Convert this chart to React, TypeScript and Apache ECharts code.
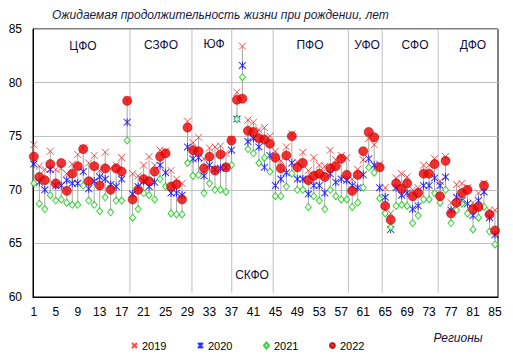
import React, { useEffect, useRef } from 'react';
import * as echarts from 'echarts';

// Region numbers shown on the x axis
const regionTicks = [1, 5, 9, 13, 17, 21, 25, 29, 33, 37, 41, 45, 49, 53, 57, 61, 65, 69, 73, 77, 81, 85];

// Life expectancy at birth by region (1..85)
const y2019 = [
  74.2, 72.2, 71.9, 73.6, 71.9, 72.0, 71.5, 72.4, 73.3, 73.9,
  72.5, 73.2, 71.8, 73.5, 72.0, 72.3, 73.0, 78.4, 71.5, 71.3,
  72.3, 73.1, 72.3, 73.7, 73.6, 71.8, 71.0, 70.6, 76.4, 74.4,
  74.9, 72.9, 73.9, 74.0, 74.1, 73.4, 74.7, 79.1, 83.4, 76.5,
  76.3, 75.6, 75.8, 75.0, 73.6, 72.7, 74.0, 75.2, 72.6, 73.5,
  71.8, 73.0, 72.3, 72.2, 73.7, 72.8, 73.2, 73.0, 71.0, 71.9,
  72.8, 74.8, 74.2, 72.4, 70.2, 67.8, 71.1, 71.5, 71.2, 70.0,
  70.2, 72.3, 72.3, 72.9, 70.8, 73.1, 68.8, 70.5, 70.6, 70.2,
  68.8, 69.7, 70.6, 68.1, 68.1,
];
const y2020 = [
  72.4, 70.7, 70.0, 71.9, 70.4, 70.4, 70.9, 70.6, 70.6, 71.7,
  70.1, 70.8, 71.2, 71.0, 70.5, 70.3, 71.0, 76.3, 69.6, 70.3,
  70.8, 70.3, 70.7, 72.3, 71.6, 69.7, 69.7, 69.5, 74.0, 72.9,
  73.0, 71.3, 72.3, 71.9, 72.0, 72.1, 73.7, 76.6, 81.6, 74.5,
  74.8, 74.0, 72.1, 73.2, 70.4, 71.0, 71.6, 72.5, 71.0, 71.0,
  69.6, 70.4, 70.4, 69.7, 71.5, 70.7, 71.0, 70.9, 70.4, 70.2,
  71.4, 72.9, 72.3, 70.2, 69.3, 66.3, 70.2, 69.5, 69.7, 68.2,
  68.5, 70.4, 70.4, 71.1, 70.4, 71.2, 68.1, 69.3, 69.0, 68.7,
  67.6, 69.0, 69.8, 67.4, 65.8,
];
const y2021 = [
  70.6, 68.7, 68.2, 69.5, 69.0, 69.1, 68.8, 68.6, 68.6, 70.4,
  69.0, 68.6, 68.0, 69.3, 67.9, 69.0, 69.0, 74.6, 67.4, 68.2,
  69.7, 69.5, 69.1, 71.0, 70.3, 67.8, 67.7, 67.7, 72.5, 71.3,
  71.4, 69.7, 70.6, 70.0, 70.0, 69.8, 72.3, 76.6, 80.5, 73.8,
  73.4, 72.5, 73.0, 71.7, 69.4, 69.4, 70.3, 71.5, 70.0, 70.0,
  68.4, 69.4, 69.0, 68.2, 70.0, 69.4, 69.1, 69.1, 68.4, 68.8,
  70.2, 72.1, 71.6, 69.2, 67.8, 66.5, 68.5, 68.6, 68.5, 66.9,
  67.6, 69.1, 69.1, 69.7, 68.8, 70.0, 66.9, 68.1, 68.7, 67.8,
  66.3, 67.4, 68.4, 66.1, 64.9,
];
const y2022 = [
  73.1, 71.2, 70.9, 72.4, 70.6, 72.5, 69.9, 71.5, 72.2, 73.8,
  70.8, 72.2, 70.4, 72.0, 70.0, 72.0, 71.7, 78.3, 69.1, 70.0,
  71.0, 70.8, 71.7, 73.1, 73.4, 70.3, 70.5, 69.1, 75.8, 73.7,
  73.6, 72.0, 73.1, 71.8, 73.3, 72.1, 74.6, 78.4, 78.5, 75.5,
  75.4, 74.8, 74.7, 74.3, 73.0, 72.0, 73.2, 75.0, 72.1, 72.5,
  70.9, 71.3, 71.5, 71.2, 72.0, 72.2, 72.9, 71.4, 69.9, 71.4,
  73.6, 75.4, 74.9, 72.1, 68.5, 67.2, 70.6, 70.1, 70.6, 69.4,
  69.7, 71.5, 71.5, 72.4, 69.4, 72.7, 67.8, 68.8, 69.7, 70.0,
  68.2, 68.4, 70.4, 67.7, 66.2,
];

// Federal district boundaries (in region-number units) and names
const districtBounds = [18.5, 29.8, 37.05, 44.6, 58.3, 64.45, 74.65];
const districtNames = ['ЦФО', 'СЗФО', 'ЮФ', 'СКФО', 'ПФО', 'УФО', 'СФО', 'ДФО'];
const seriesNames = ['2019', '2020', '2021', '2022'];

const titleText = 'Ожидаемая продолжительность жизни при рождении, лет';
const xAxisTitle = 'Регионы';

const FONT = '"Liberation Sans", Arial, sans-serif';
const X_MARK = 'path://M0,0L10,10M10,0L0,10';
const AST_MARK = 'path://M0,1L10,11M10,1L0,11M5,0L5,12';

export default function App() {
  const ref = useRef<HTMLDivElement>(null);

  useEffect(() => {
    if (!ref.current) return;
    const chart = echarts.init(ref.current, null, { renderer: 'svg' });

    const all = [y2019, y2020, y2021, y2022];
    const hilo = y2019.map((_, i) => {
      const vals = all.map((a) => a[i]);
      return [i + 1, Math.min(...vals), Math.max(...vals)];
    });
    const sepData = districtBounds.map((b) => [b, 60.4, 85]);
    const pts = (arr: number[]) => arr.map((v, i) => [i + 1, v]);

    const vline = (color: string) => (params: any, api: any) => {
      const x = api.value(0);
      const p1 = api.coord([x, api.value(1)]);
      const p2 = api.coord([x, api.value(2)]);
      return {
        type: 'line',
        shape: { x1: p1[0], y1: p1[1], x2: p2[0], y2: p2[1] },
        style: { stroke: color, lineWidth: 1 },
      };
    };

    // label positions (pixels)
    const labelPos: [number, number][] = [
      [83, 46], [161, 45], [214, 44], [252, 275], [310, 45], [367, 45], [415, 45], [473, 45],
    ];

    chart.setOption({
      animation: false,
      textStyle: { fontFamily: FONT },
      grid: {
        left: 33, right: 15, top: 29, bottom: 66,
        show: true, borderColor: '#000', borderWidth: 1, backgroundColor: 'transparent',
      },
      xAxis: {
        type: 'value', min: 0.85, max: 85.55,
        axisLine: { show: true, lineStyle: { color: '#000', width: 1 } },
        axisTick: { show: false },
        splitLine: { show: false },
        axisLabel: { customValues: regionTicks, color: '#000', fontSize: 12, margin: 9, fontFamily: FONT },
      },
      yAxis: {
        type: 'value', min: 60, max: 85, interval: 5,
        axisLine: { show: true, lineStyle: { color: '#000', width: 1 } },
        axisTick: { show: false },
        splitLine: { show: true, lineStyle: { color: '#c0c0c0', width: 1 } },
        axisLabel: { color: '#000', fontSize: 12, margin: 11, fontFamily: FONT },
      },
      legend: {
        data: seriesNames,
        left: 131, top: 340,
        itemWidth: 5, itemHeight: 6, itemGap: 30.5,
        textStyle: { fontSize: 11, color: '#000', fontFamily: FONT },
        padding: 0,
      },
      graphic: [
        {
          type: 'text', left: 52, top: 9, silent: true,
          style: { text: titleText, font: `italic 12px ${FONT}`, fill: '#1a1a40' },
        },
        ...districtNames.map((name, i) => ({
          type: 'text', x: labelPos[i][0], y: labelPos[i][1], silent: true,
          style: {
            text: name, font: `12px ${FONT}`, fill: '#10103a',
            textAlign: 'center', textVerticalAlign: 'middle',
          },
        })),
        {
          type: 'text', x: 458, y: 338, silent: true,
          style: {
            text: xAxisTitle, font: `italic 12px ${FONT}`, fill: '#10103a',
            textAlign: 'center', textVerticalAlign: 'middle',
          },
        },
      ],
      series: [
        {
          type: 'custom', name: 'sep', data: sepData, renderItem: vline('#c0c0c0'),
          silent: true, z: 1,
        },
        {
          type: 'custom', name: 'hilo', data: hilo, renderItem: vline('#a8a8a8'),
          silent: true, z: 2,
        },
        {
          type: 'scatter', name: '2019', data: pts(y2019), symbol: X_MARK, symbolSize: 7,
          itemStyle: { color: '#ff2020', borderColor: '#ff2020', borderWidth: 1 }, z: 3,
        },
        {
          type: 'scatter', name: '2020', data: pts(y2020), symbol: AST_MARK, symbolSize: [7, 8],
          itemStyle: { color: '#0000ff', borderColor: '#0000ff', borderWidth: 1 }, z: 4,
        },
        {
          type: 'scatter', name: '2021', data: pts(y2021), symbol: 'diamond', symbolSize: [6, 7],
          itemStyle: { color: '#ffffff', borderColor: '#00cc00', borderWidth: 1 }, z: 5,
        },
        {
          type: 'scatter', name: '2022', data: pts(y2022), symbol: 'circle', symbolSize: 9,
          itemStyle: { color: '#ee0000', borderColor: '#b00000', borderWidth: 0.7 }, z: 6,
        },
      ],
    });

    return () => chart.dispose();
  }, []);

  return <div ref={ref} style={{ position: 'absolute', left: 0, top: 0, width: 513, height: 363 }} />;
}
